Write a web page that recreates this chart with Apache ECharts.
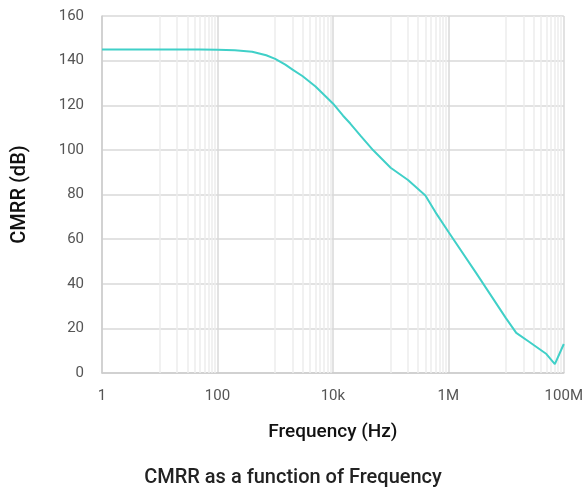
<!DOCTYPE html>
<html>
<head>
<meta charset="utf-8">
<script src="https://cdn.jsdelivr.net/npm/echarts@6/dist/echarts.min.js"></script>
<style>
  html, body { margin: 0; padding: 0; background: #fff; }
  #chart { width: 586px; height: 494px; }
</style>
</head>
<body>
<div id="chart"></div>
<script>
// frequency (Hz) and CMRR (dB)
var freq = [1, 10, 50, 100, 200, 400, 700, 1000, 1500, 2000, 3000, 5000, 10000, 15000, 20000,
  30000, 50000, 100000, 200000, 400000, 600000, 1000000, 3000000, 10000000, 15000000,
  25000000, 50000000, 70000000, 100000000];
var cmrr = [145, 145, 145, 144.9, 144.6, 144, 142.4, 140.8, 138.2, 136, 133, 128.4, 120.8, 115.3, 111.8,
  106.4, 99.8, 92, 86.5, 79.6, 72, 63.3, 45, 24.5, 18, 14, 8.5, 4, 13];

var xTickLabels = { 0: '1', 2: '100', 4: '10k', 6: '1M', 8: '100M' };
var yTicks = [0, 20, 40, 60, 80, 100, 120, 140, 160];

// light grid lines at 10..90, 1k..9k, 100k..900k, 10M..90M
var minorLines = [];
for (var m = 1; m <= 7; m += 2) {
  for (var k = 1; k <= 9; k++) {
    minorLines.push({ xAxis: k * Math.pow(10, m) });
  }
}

var chart = echarts.init(document.getElementById('chart'));
var font = 'Roboto, "Noto Sans", sans-serif';

var option = {
  animation: false,
  title: {
    text: 'CMRR as a function of Frequency',
    left: 'center',
    top: 463,
    textStyle: { fontFamily: font, fontSize: 20, fontWeight: 500, color: '#222' }
  },
  grid: { left: 102, right: 21, top: 16, bottom: 121 },
  xAxis: {
    type: 'log',
    logBase: 100,
    min: 1,
    max: 100000000,
    name: 'Frequency (Hz)',
    nameLocation: 'middle',
    nameGap: 50,
    nameTextStyle: { fontFamily: font, fontSize: 19, fontWeight: 500, color: '#111' },
    axisLine: { lineStyle: { color: '#cccccc', width: 1.5 } },
    axisTick: { show: false },
    axisLabel: {
      margin: 16,
      fontFamily: font, fontSize: 15, color: '#555',
      formatter: function (v) {
        var e = Math.round(Math.log10(v));
        return xTickLabels[e] || '';
      }
    },
    splitLine: { show: true, lineStyle: { color: '#d9d9d9', width: 1.5 } }
  },
  yAxis: {
    type: 'value',
    min: yTicks[0],
    max: yTicks[yTicks.length - 1],
    interval: 20,
    name: 'CMRR (dB)',
    nameLocation: 'middle',
    nameGap: 72,
    nameTextStyle: { fontFamily: font, fontSize: 20, fontWeight: 500, color: '#111' },
    axisLine: { show: true, lineStyle: { color: '#cccccc', width: 1.5 } },
    axisTick: { show: false },
    axisLabel: { margin: 18, fontFamily: font, fontSize: 15, color: '#555' },
    splitLine: { lineStyle: { color: '#d9d9d9', width: 1.5 } }
  },
  series: [
    {
      name: 'minor',
      type: 'line',
      data: [],
      z: 1,
      markLine: {
        silent: true,
        z: 1,
        symbol: 'none',
        label: { show: false },
        lineStyle: { color: '#ececec', width: 1.5, type: 'solid' },
        data: minorLines
      }
    },
    {
      name: 'CMRR',
      type: 'line',
      z: 6,
      showSymbol: false,
      lineStyle: { color: '#40d0c8', width: 2 },
      itemStyle: { color: '#40d0c8' },
      data: freq.map(function (f, i) { return [f, cmrr[i]]; })
    }
  ]
};

chart.setOption(option);
</script>
</body>
</html>
